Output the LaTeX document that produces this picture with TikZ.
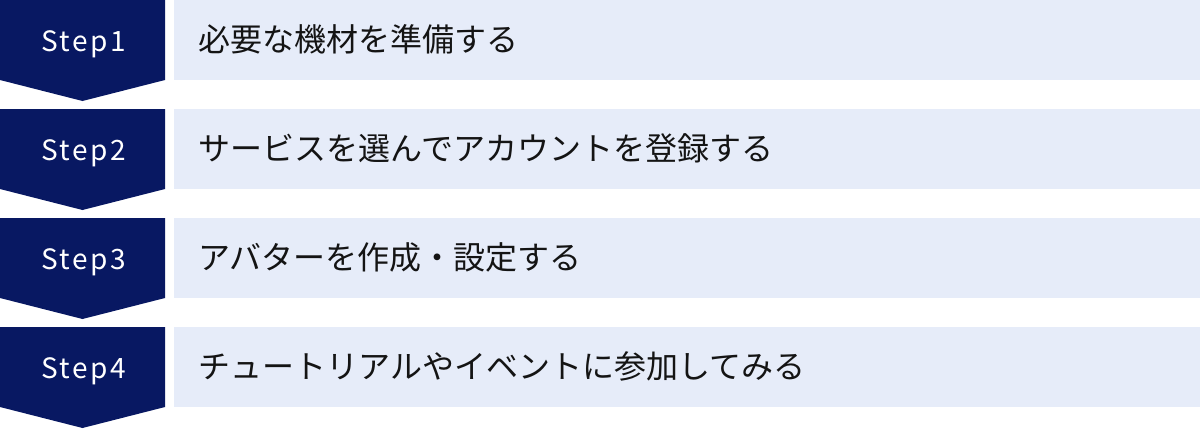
\documentclass[tikz,border=0pt]{standalone}
\usepackage{fontspec}
\newfontfamily\jpfont{Noto Sans CJK JP}
\newfontfamily\stepfont[LetterSpace=9]{Noto Sans CJK JP}
\definecolor{navy}{RGB}{8,24,98}
\definecolor{lightbg}{RGB}{230,236,249}
\definecolor{txt}{RGB}{20,20,20}
\tikzset{
  stepshape/.style={fill=navy},
  descbox/.style={fill=lightbg},
  steplabel/.style={text=white,font=\stepfont\fontsize{28}{32}\selectfont,inner sep=0pt,anchor=base},
  desclabel/.style={text=txt,font=\jpfont\fontsize{32}{36}\selectfont,inner sep=0pt,anchor=base west}
}
\begin{document}
\begin{tikzpicture}[x=1pt,y=-1pt]
\useasboundingbox (0,0) rectangle (1200,429);
\foreach \i/\txt in {1/必要な機材を準備する,2/サービスを選んでアカウントを登録する,3/アバターを作成・設定する,4/チュートリアルやイベントに参加してみる}{
  \pgfmathsetmacro{\t}{109*(\i-1)}
  \fill[stepshape] (0,\t) -- (165,\t) -- (165,\t+80) -- (82.5,\t+101) -- (0,\t+80) -- cycle;
  \fill[descbox] (174,\t) rectangle (1200,\t+80);
  \node[steplabel] (s\i) at (83.5,\t+51.5) {Step\i};
  \node[desclabel] (d\i) at (198.5,\t+51) {\txt};
}
\end{tikzpicture}
\end{document}
